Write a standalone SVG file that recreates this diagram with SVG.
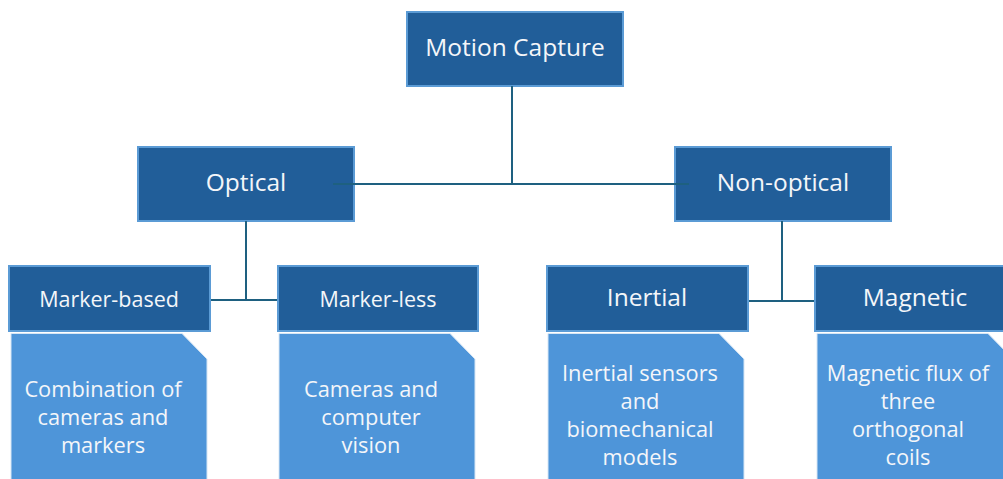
<svg xmlns="http://www.w3.org/2000/svg" width="1003" height="479" viewBox="0 0 1003 479">
  <style>
    .hdr { fill: #215E99; stroke: #5B9BD5; stroke-width: 2; }
    .desc { fill: #4E95D9; stroke: #D6E6F5; stroke-width: 1; }
    .t { font-family: "Open Sans", "Liberation Sans", sans-serif; fill: #F4F6F9; text-anchor: middle; }
    .big { font-size: 24.5px; }
    .mid { font-size: 21.5px; }
    .d { font-size: 21.8px; }
    .wire { stroke: #1E6080; stroke-width: 2; fill: none; }
  </style>

  <rect width="1003" height="479" fill="#FFFFFF"/>

  <!-- top-level nodes -->
  <g id="motion-capture">
    <rect class="hdr" x="407" y="12" width="216" height="74"/>
    <text class="t big" x="515" y="56">Motion Capture</text>
  </g>
  <g id="optical">
    <rect class="hdr" x="138" y="147" width="216" height="74"/>
    <text class="t big" x="246" y="191">Optical</text>
  </g>
  <g id="non-optical">
    <rect class="hdr" x="675" y="147" width="216" height="74"/>
    <text class="t big" x="783" y="191">Non-optical</text>
  </g>

  <!-- connectors -->
  <g id="connectors">
    <line class="wire" x1="512" y1="86" x2="512" y2="184"/>
    <line class="wire" x1="333" y1="184" x2="689" y2="184"/>
    <line class="wire" x1="246" y1="221" x2="246" y2="300"/>
    <line class="wire" x1="210" y1="300" x2="278" y2="300"/>
    <line class="wire" x1="782" y1="221" x2="782" y2="301"/>
    <line class="wire" x1="748" y1="301" x2="815" y2="301"/>
  </g>

  <!-- optical branch -->
  <g id="marker-based">
    <rect class="hdr" x="9" y="266" width="201" height="65"/>
    <text class="t mid" x="109" y="307">Marker-based</text>
  </g>
  <g id="marker-based-desc">
    <path class="desc" d="M11 333.5 H182 L207 359 V480 H11 Z"/>
    <text class="t d" x="103" y="397">Combination of</text>
    <text class="t d" x="103" y="425">cameras and</text>
    <text class="t d" x="103" y="453">markers</text>
  </g>
  <g id="marker-less">
    <rect class="hdr" x="278" y="266" width="200" height="65"/>
    <text class="t mid" x="378" y="307">Marker-less</text>
  </g>
  <g id="marker-less-desc">
    <path class="desc" d="M279 333.5 H450 L475 359 V480 H279 Z"/>
    <text class="t d" x="371" y="397">Cameras and</text>
    <text class="t d" x="371" y="425">computer</text>
    <text class="t d" x="371" y="453">vision</text>
  </g>

  <!-- non-optical branch -->
  <g id="inertial">
    <rect class="hdr" x="547" y="266" width="201" height="65"/>
    <text class="t big" x="647" y="306">Inertial</text>
  </g>
  <g id="inertial-desc">
    <path class="desc" d="M548 333.5 H719 L744 359 V480 H548 Z"/>
    <text class="t d" x="640" y="381">Inertial sensors</text>
    <text class="t d" x="640" y="409">and</text>
    <text class="t d" x="640" y="437">biomechanical</text>
    <text class="t d" x="640" y="465">models</text>
  </g>
  <g id="magnetic">
    <rect class="hdr" x="815" y="266" width="201" height="65"/>
    <text class="t big" x="915" y="306">Magnetic</text>
  </g>
  <g id="magnetic-desc">
    <path class="desc" d="M817 333.5 H988 L1013 359 V480 H817 Z"/>
    <text class="t d" x="908" y="381">Magnetic flux of</text>
    <text class="t d" x="908" y="409">three</text>
    <text class="t d" x="908" y="437">orthogonal</text>
    <text class="t d" x="908" y="465">coils</text>
  </g>
</svg>
